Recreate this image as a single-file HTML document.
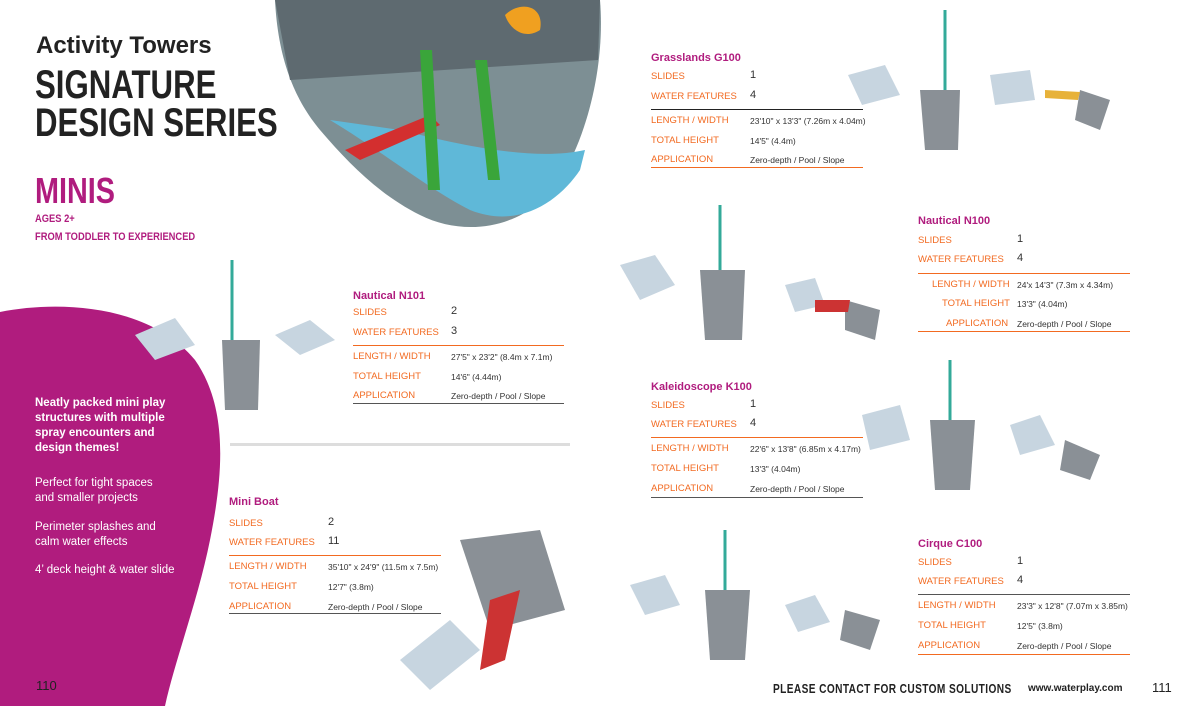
<!DOCTYPE html>
<html><head><meta charset="utf-8"><style>
body{margin:0;width:1200px;height:706px;position:relative;overflow:hidden;background:#fff;font-family:"Liberation Sans",sans-serif}
.a{position:absolute;white-space:nowrap}
.t{color:#b01c7e;font-weight:bold;font-size:11px}
.l{color:#f26a21;font-size:9.5px}
.v{color:#333;font-size:11px}
.s{color:#333;font-size:8.5px}
.ln{position:absolute;height:1px}
</style></head><body>
<svg class="a" style="left:0;top:0" width="1200" height="706">
<path d="M0,312 C60,300 150,305 195,360 C230,410 222,480 210,540 C198,600 175,660 165,706 L0,706Z" fill="#b01c7e"/>
<path d="M275,0 L600,0 C605,60 590,130 560,180 C530,225 470,240 420,215 C380,195 350,165 320,130 C295,100 278,60 275,0Z" fill="#7d8f94"/>
<path d="M275,0 L600,0 L598,60 L290,80Z" fill="#5e6a70"/>
<path d="M330,120 C380,150 430,190 470,210 C520,230 560,200 580,170 L585,150 C540,160 480,150 400,130Z" fill="#5fb8d8"/>
<path d="M345,150 L430,115 L440,125 L360,160Z" fill="#d32f2f"/>
<path d="M420,50 L432,50 L440,190 L428,190Z" fill="#3aa53a"/>
<path d="M475,60 L487,60 L500,180 L488,180Z" fill="#3aa53a"/>
<path d="M505,15 C520,0 545,5 540,30 C525,40 510,30 505,15Z" fill="#f0a020"/>
<rect x="230" y="443" width="340" height="3" fill="#ddd"/>
<g fill="#c7d5e0"><path d="M135,335 L175,318 L195,345 L155,360Z"/><path d="M275,335 L310,320 L335,340 L300,355Z"/>
<path d="M620,265 L655,255 L675,285 L640,300Z"/><path d="M785,285 L815,278 L825,305 L795,312Z"/>
<path d="M848,75 L885,65 L900,95 L862,105Z"/><path d="M990,75 L1030,70 L1035,100 L995,105Z"/>
<path d="M862,415 L900,405 L910,440 L870,450Z"/><path d="M1010,425 L1040,415 L1055,445 L1020,455Z"/>
<path d="M630,585 L665,575 L680,605 L645,615Z"/><path d="M785,605 L815,595 L830,622 L798,632Z"/>
<path d="M400,660 L450,620 L480,650 L430,690Z"/></g>
<g fill="#8a9096"><path d="M222,340 L260,340 L258,410 L225,410Z"/><path d="M700,270 L745,270 L742,340 L705,340Z"/>
<path d="M920,90 L960,90 L958,150 L925,150Z"/><path d="M930,420 L975,420 L970,490 L935,490Z"/>
<path d="M705,590 L750,590 L745,660 L710,660Z"/><path d="M460,540 L540,530 L565,610 L490,630Z"/>
<path d="M845,300 L880,310 L875,340 L845,330Z"/><path d="M1080,90 L1110,100 L1100,130 L1075,120Z"/>
<path d="M1065,440 L1100,455 L1090,480 L1060,470Z"/><path d="M845,610 L880,620 L870,650 L840,640Z"/></g>
<g stroke="#3a9" stroke-width="3" fill="none"><path d="M232,340 L232,260"/><path d="M720,270 L720,205"/><path d="M945,90 L945,10"/><path d="M950,420 L950,360"/><path d="M725,590 L725,530"/></g>
<path d="M490,600 L520,590 L505,660 L480,670Z" fill="#c33"/>
<path d="M815,300 L850,300 L848,312 L815,312Z" fill="#c33"/>
<path d="M1045,90 L1080,92 L1078,100 L1045,98Z" fill="#e7b23a"/>
</svg>
<div class="a" style="left:36px;top:32px;font-size:24px;font-weight:bold;color:#222">Activity Towers</div>
<div class="a" style="left:35px;top:66px;font-size:40px;font-weight:bold;color:#222;line-height:38px;transform:scaleX(0.78);transform-origin:left">SIGNATURE<br>DESIGN SERIES</div>
<div class="a" style="left:35px;top:170px;font-size:36px;font-weight:bold;color:#b01c7e;transform:scaleX(0.8);transform-origin:left">MINIS</div>
<div class="a" style="left:35px;top:210px;font-size:11px;font-weight:bold;color:#b01c7e;line-height:18px;transform:scaleX(0.85);transform-origin:left">AGES 2+<br>FROM TODDLER TO EXPERIENCED</div>
<div class="a" style="left:35px;top:396px;font-size:11.5px;font-weight:bold;color:#fff;line-height:15px">Neatly packed mini play<br>structures with multiple<br>spray encounters and<br>design themes!</div>
<div class="a" style="left:35px;top:476px;font-size:11.5px;color:#fff;line-height:15px">Perfect for tight spaces<br>and smaller projects</div>
<div class="a" style="left:35px;top:520px;font-size:11.5px;color:#fff;line-height:15px">Perimeter splashes and<br>calm water effects</div>
<div class="a" style="left:35px;top:564px;font-size:11.5px;color:#fff">4’ deck height &amp; water slide</div>
<div class="a" style="left:36px;top:678px;font-size:13px;color:#222">110</div>

<div class="a t" style="left:651px;top:52px">Grasslands G100</div>
<div class="a l" style="left:651px;top:71px">SLIDES</div><div class="a v" style="left:750px;top:69px">1</div>
<div class="a l" style="left:651px;top:91px">WATER FEATURES</div><div class="a v" style="left:750px;top:89px">4</div>
<div class="ln" style="left:651px;top:109px;width:212px;background:#222"></div>
<div class="a l" style="left:651px;top:115px">LENGTH / WIDTH</div><div class="a s" style="left:750px;top:116px">23'10" x 13'3" (7.26m x 4.04m)</div>
<div class="a l" style="left:651px;top:135px">TOTAL HEIGHT</div><div class="a s" style="left:750px;top:136px">14'5" (4.4m)</div>
<div class="a l" style="left:651px;top:154px">APPLICATION</div><div class="a s" style="left:750px;top:155px">Zero-depth / Pool / Slope</div>
<div class="ln" style="left:651px;top:167px;width:212px;background:#f26a21"></div>

<div class="a t" style="left:918px;top:215px">Nautical N100</div>
<div class="a l" style="left:918px;top:235px">SLIDES</div><div class="a v" style="left:1017px;top:233px">1</div>
<div class="a l" style="left:918px;top:254px">WATER FEATURES</div><div class="a v" style="left:1017px;top:252px">4</div>
<div class="ln" style="left:918px;top:273px;width:212px;background:#f26a21"></div>
<div class="a l" style="left:932px;top:279px">LENGTH / WIDTH</div><div class="a s" style="left:1017px;top:280px">24'x 14'3" (7.3m x 4.34m)</div>
<div class="a l" style="left:942px;top:298px">TOTAL HEIGHT</div><div class="a s" style="left:1017px;top:299px">13'3" (4.04m)</div>
<div class="a l" style="left:946px;top:318px">APPLICATION</div><div class="a s" style="left:1017px;top:319px">Zero-depth / Pool / Slope</div>
<div class="ln" style="left:918px;top:331px;width:212px;background:#f26a21"></div>

<div class="a t" style="left:353px;top:290px">Nautical N101</div>
<div class="a l" style="left:353px;top:307px">SLIDES</div><div class="a v" style="left:451px;top:305px">2</div>
<div class="a l" style="left:353px;top:327px">WATER FEATURES</div><div class="a v" style="left:451px;top:325px">3</div>
<div class="ln" style="left:353px;top:345px;width:211px;background:#f26a21"></div>
<div class="a l" style="left:353px;top:351px">LENGTH / WIDTH</div><div class="a s" style="left:451px;top:352px">27'5" x 23'2" (8.4m x 7.1m)</div>
<div class="a l" style="left:353px;top:371px">TOTAL HEIGHT</div><div class="a s" style="left:451px;top:372px">14'6" (4.44m)</div>
<div class="a l" style="left:353px;top:390px">APPLICATION</div><div class="a s" style="left:451px;top:391px">Zero-depth / Pool / Slope</div>
<div class="ln" style="left:353px;top:403px;width:211px;background:#555"></div>

<div class="a t" style="left:651px;top:381px">Kaleidoscope K100</div>
<div class="a l" style="left:651px;top:400px">SLIDES</div><div class="a v" style="left:750px;top:398px">1</div>
<div class="a l" style="left:651px;top:419px">WATER FEATURES</div><div class="a v" style="left:750px;top:417px">4</div>
<div class="ln" style="left:651px;top:437px;width:212px;background:#f26a21"></div>
<div class="a l" style="left:651px;top:443px">LENGTH / WIDTH</div><div class="a s" style="left:750px;top:444px">22'6" x 13'8" (6.85m x 4.17m)</div>
<div class="a l" style="left:651px;top:463px">TOTAL HEIGHT</div><div class="a s" style="left:750px;top:464px">13'3" (4.04m)</div>
<div class="a l" style="left:651px;top:483px">APPLICATION</div><div class="a s" style="left:750px;top:484px">Zero-depth / Pool / Slope</div>
<div class="ln" style="left:651px;top:497px;width:212px;background:#555"></div>

<div class="a t" style="left:229px;top:496px">Mini Boat</div>
<div class="a l" style="left:229px;top:518px">SLIDES</div><div class="a v" style="left:328px;top:516px">2</div>
<div class="a l" style="left:229px;top:537px">WATER FEATURES</div><div class="a v" style="left:328px;top:535px">11</div>
<div class="ln" style="left:229px;top:555px;width:212px;background:#f26a21"></div>
<div class="a l" style="left:229px;top:561px">LENGTH / WIDTH</div><div class="a s" style="left:328px;top:562px">35'10" x 24'9" (11.5m x 7.5m)</div>
<div class="a l" style="left:229px;top:581px">TOTAL HEIGHT</div><div class="a s" style="left:328px;top:582px">12'7" (3.8m)</div>
<div class="a l" style="left:229px;top:601px">APPLICATION</div><div class="a s" style="left:328px;top:602px">Zero-depth / Pool / Slope</div>
<div class="ln" style="left:229px;top:613px;width:212px;background:#555"></div>

<div class="a t" style="left:918px;top:538px">Cirque C100</div>
<div class="a l" style="left:918px;top:557px">SLIDES</div><div class="a v" style="left:1017px;top:555px">1</div>
<div class="a l" style="left:918px;top:576px">WATER FEATURES</div><div class="a v" style="left:1017px;top:574px">4</div>
<div class="ln" style="left:918px;top:594px;width:212px;background:#555"></div>
<div class="a l" style="left:918px;top:600px">LENGTH / WIDTH</div><div class="a s" style="left:1017px;top:601px">23'3" x 12'8" (7.07m x 3.85m)</div>
<div class="a l" style="left:918px;top:620px">TOTAL HEIGHT</div><div class="a s" style="left:1017px;top:621px">12'5" (3.8m)</div>
<div class="a l" style="left:918px;top:640px">APPLICATION</div><div class="a s" style="left:1017px;top:641px">Zero-depth / Pool / Slope</div>
<div class="ln" style="left:918px;top:654px;width:212px;background:#f26a21"></div>

<div class="a" style="left:773px;top:681px;font-size:13px;font-weight:bold;color:#222;letter-spacing:0.5px;transform:scaleX(0.78);transform-origin:left">PLEASE CONTACT FOR CUSTOM SOLUTIONS</div>
<div class="a" style="left:1028px;top:683px;font-size:10px;font-weight:bold;color:#222">www.waterplay.com</div>
<div class="a" style="left:1152px;top:680px;font-size:13px;color:#222">111</div>
</body></html>
